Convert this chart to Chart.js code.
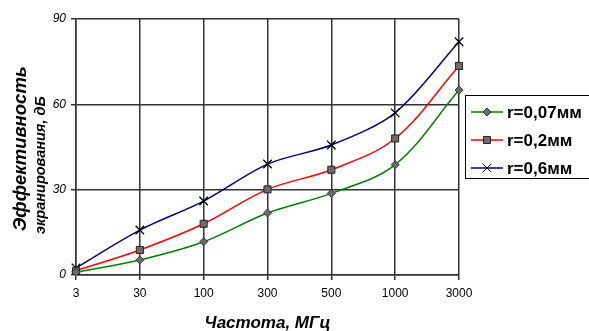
<!DOCTYPE html>
<html>
<head>
<meta charset="utf-8">
<script src="https://cdn.jsdelivr.net/npm/chart.js@4.4.0/dist/chart.umd.min.js"></script>
<style>
  html, body { margin: 0; padding: 0; background: #fff; }
  #wrap { width: 589px; height: 331px; }
</style>
</head>
<body>
<div id="wrap"><canvas id="chart" width="589" height="331"></canvas></div>
<script>
// Frequencies (category axis) and screening efficiency values, dB
const frequencies = ['3', '30', '100', '300', '500', '1000', '3000'];
const seriesLabels = ['r=0,07мм', 'r=0,2мм', 'r=0,6мм'];
const r007 = [1, 5.3, 11.7, 21.8, 28.7, 38.8, 65];
const r02 = [1.5, 8.8, 18, 30.1, 37, 48, 73.5];
const r06 = [2.5, 15.8, 26, 39, 45.7, 57, 82];
const yTicks = [0, 30, 60, 90];

const gridColor = '#333';

// draws a marker like the ones Chart.js uses, for the custom legend
function drawMarker(ctx, style, x, y, r, fill, stroke) {
    ctx.save();
    ctx.fillStyle = fill;
    ctx.strokeStyle = stroke;
    ctx.lineWidth = 1;
    ctx.beginPath();
    if (style === 'rectRot') {
        ctx.moveTo(x, y - r); ctx.lineTo(x + r, y); ctx.lineTo(x, y + r); ctx.lineTo(x - r, y); ctx.closePath();
        ctx.fill(); ctx.stroke();
    } else if (style === 'rect') {
        const s = r * Math.SQRT1_2;
        ctx.rect(x - s, y - s, 2 * s, 2 * s);
        ctx.fill(); ctx.stroke();
    } else {
        const s = r * Math.SQRT1_2;
        ctx.moveTo(x - s, y - s); ctx.lineTo(x + s, y + s);
        ctx.moveTo(x - s, y + s); ctx.lineTo(x + s, y - s);
        ctx.stroke();
    }
    ctx.restore();
}

// boxed legend on the right side and the two-size y axis title
const extras = {
    id: 'extras',
    afterDraw(chart) {
        const ctx = chart.ctx;

        // legend box
        const bx = 465.5, by = 95.5, bw = 140, bh = 83;
        ctx.save();
        ctx.strokeStyle = '#000';
        ctx.lineWidth = 1;
        ctx.strokeRect(bx, by, bw, bh);
        ctx.font = 'bold 17px "Liberation Sans", Arial, sans-serif';
        ctx.textBaseline = 'middle';
        chart.data.datasets.forEach((ds, i) => {
            const y = 112 + i * 28;
            ctx.strokeStyle = ds.borderColor;
            ctx.lineWidth = 1.5;
            ctx.beginPath();
            ctx.moveTo(471, y);
            ctx.lineTo(503, y);
            ctx.stroke();
            drawMarker(ctx, ds.pointStyle, 487, y, ds.pointRadius, ds.pointBackgroundColor, ds.pointBorderColor);
            ctx.fillStyle = '#000';
            ctx.fillText(ds.label, 507, y + 1);
        });
        ctx.restore();

        // y axis title, two lines of different size
        ctx.save();
        ctx.rotate(-Math.PI / 2);
        ctx.fillStyle = '#000';
        ctx.textBaseline = 'middle';
        ctx.textAlign = 'left';
        ctx.font = 'italic bold 18.5px "Liberation Sans", Arial, sans-serif';
        ctx.fillText('Эффективность', -231, 21);
        ctx.font = 'italic bold 14.5px "Liberation Sans", Arial, sans-serif';
        ctx.fillText('экранирования, дБ', -234, 41);
        ctx.restore();
    }
};

const ctx = document.getElementById('chart').getContext('2d');
new Chart(ctx, {
    type: 'line',
    data: {
        labels: frequencies,
        datasets: [
            {
                label: seriesLabels[0],
                data: r007,
                borderColor: '#008000',
                borderWidth: 1.5,
                pointStyle: 'rectRot',
                pointRadius: 4,
                pointBackgroundColor: '#6b6b6b',
                pointBorderColor: '#333',
                pointBorderWidth: 1,
                tension: 0.35,
            },
            {
                label: seriesLabels[1],
                data: r02,
                borderColor: '#ff0000',
                borderWidth: 1.5,
                pointStyle: 'rect',
                pointRadius: 5,
                pointBackgroundColor: '#6b6b6b',
                pointBorderColor: '#222',
                pointBorderWidth: 1,
                tension: 0.35,
            },
            {
                label: seriesLabels[2],
                data: r06,
                borderColor: '#000080',
                borderWidth: 1.5,
                pointStyle: 'crossRot',
                pointRadius: 6,
                pointBackgroundColor: '#000',
                pointBorderColor: '#000',
                pointBorderWidth: 1.3,
                tension: 0.3,
            },
        ],
    },
    options: {
        responsive: false,
        animation: false,
        devicePixelRatio: 1,
        layout: { padding: { top: 19, right: 130, left: 0, bottom: 0 } },
        plugins: {
            legend: { display: false },
            tooltip: { enabled: false },
        },
        scales: {
            x: {
                offset: false,
                grid: { color: gridColor, lineWidth: 1.5, tickLength: 5, tickColor: gridColor },
                border: { color: gridColor, width: 1.5 },
                ticks: {
                    color: '#000',
                    padding: 6,
                    maxRotation: 0,
                    font: { family: '"Liberation Sans", Arial, sans-serif', size: 12 },
                },
                title: {
                    display: true,
                    text: 'Частота, МГц',
                    color: '#000',
                    padding: 0,
                    font: { family: '"Liberation Sans", Arial, sans-serif', size: 17, weight: 'bold', style: 'italic', lineHeight: 0.9 },
                },
                afterFit(scale) { scale.height = 56; },
            },
            y: {
                min: 0,
                max: 90,
                afterBuildTicks(scale) { scale.ticks = yTicks.map(v => ({ value: v })); },
                grid: { color: gridColor, lineWidth: 1.5, tickLength: 5, tickColor: gridColor },
                border: { color: gridColor, width: 1.5 },
                ticks: {
                    color: '#000',
                    padding: 5,
                    font: { family: '"Liberation Sans", Arial, sans-serif', size: 12, style: 'italic' },
                },
                afterFit(scale) { scale.width = 76; },
            },
        },
    },
    plugins: [extras],
});
</script>
</body>
</html>
